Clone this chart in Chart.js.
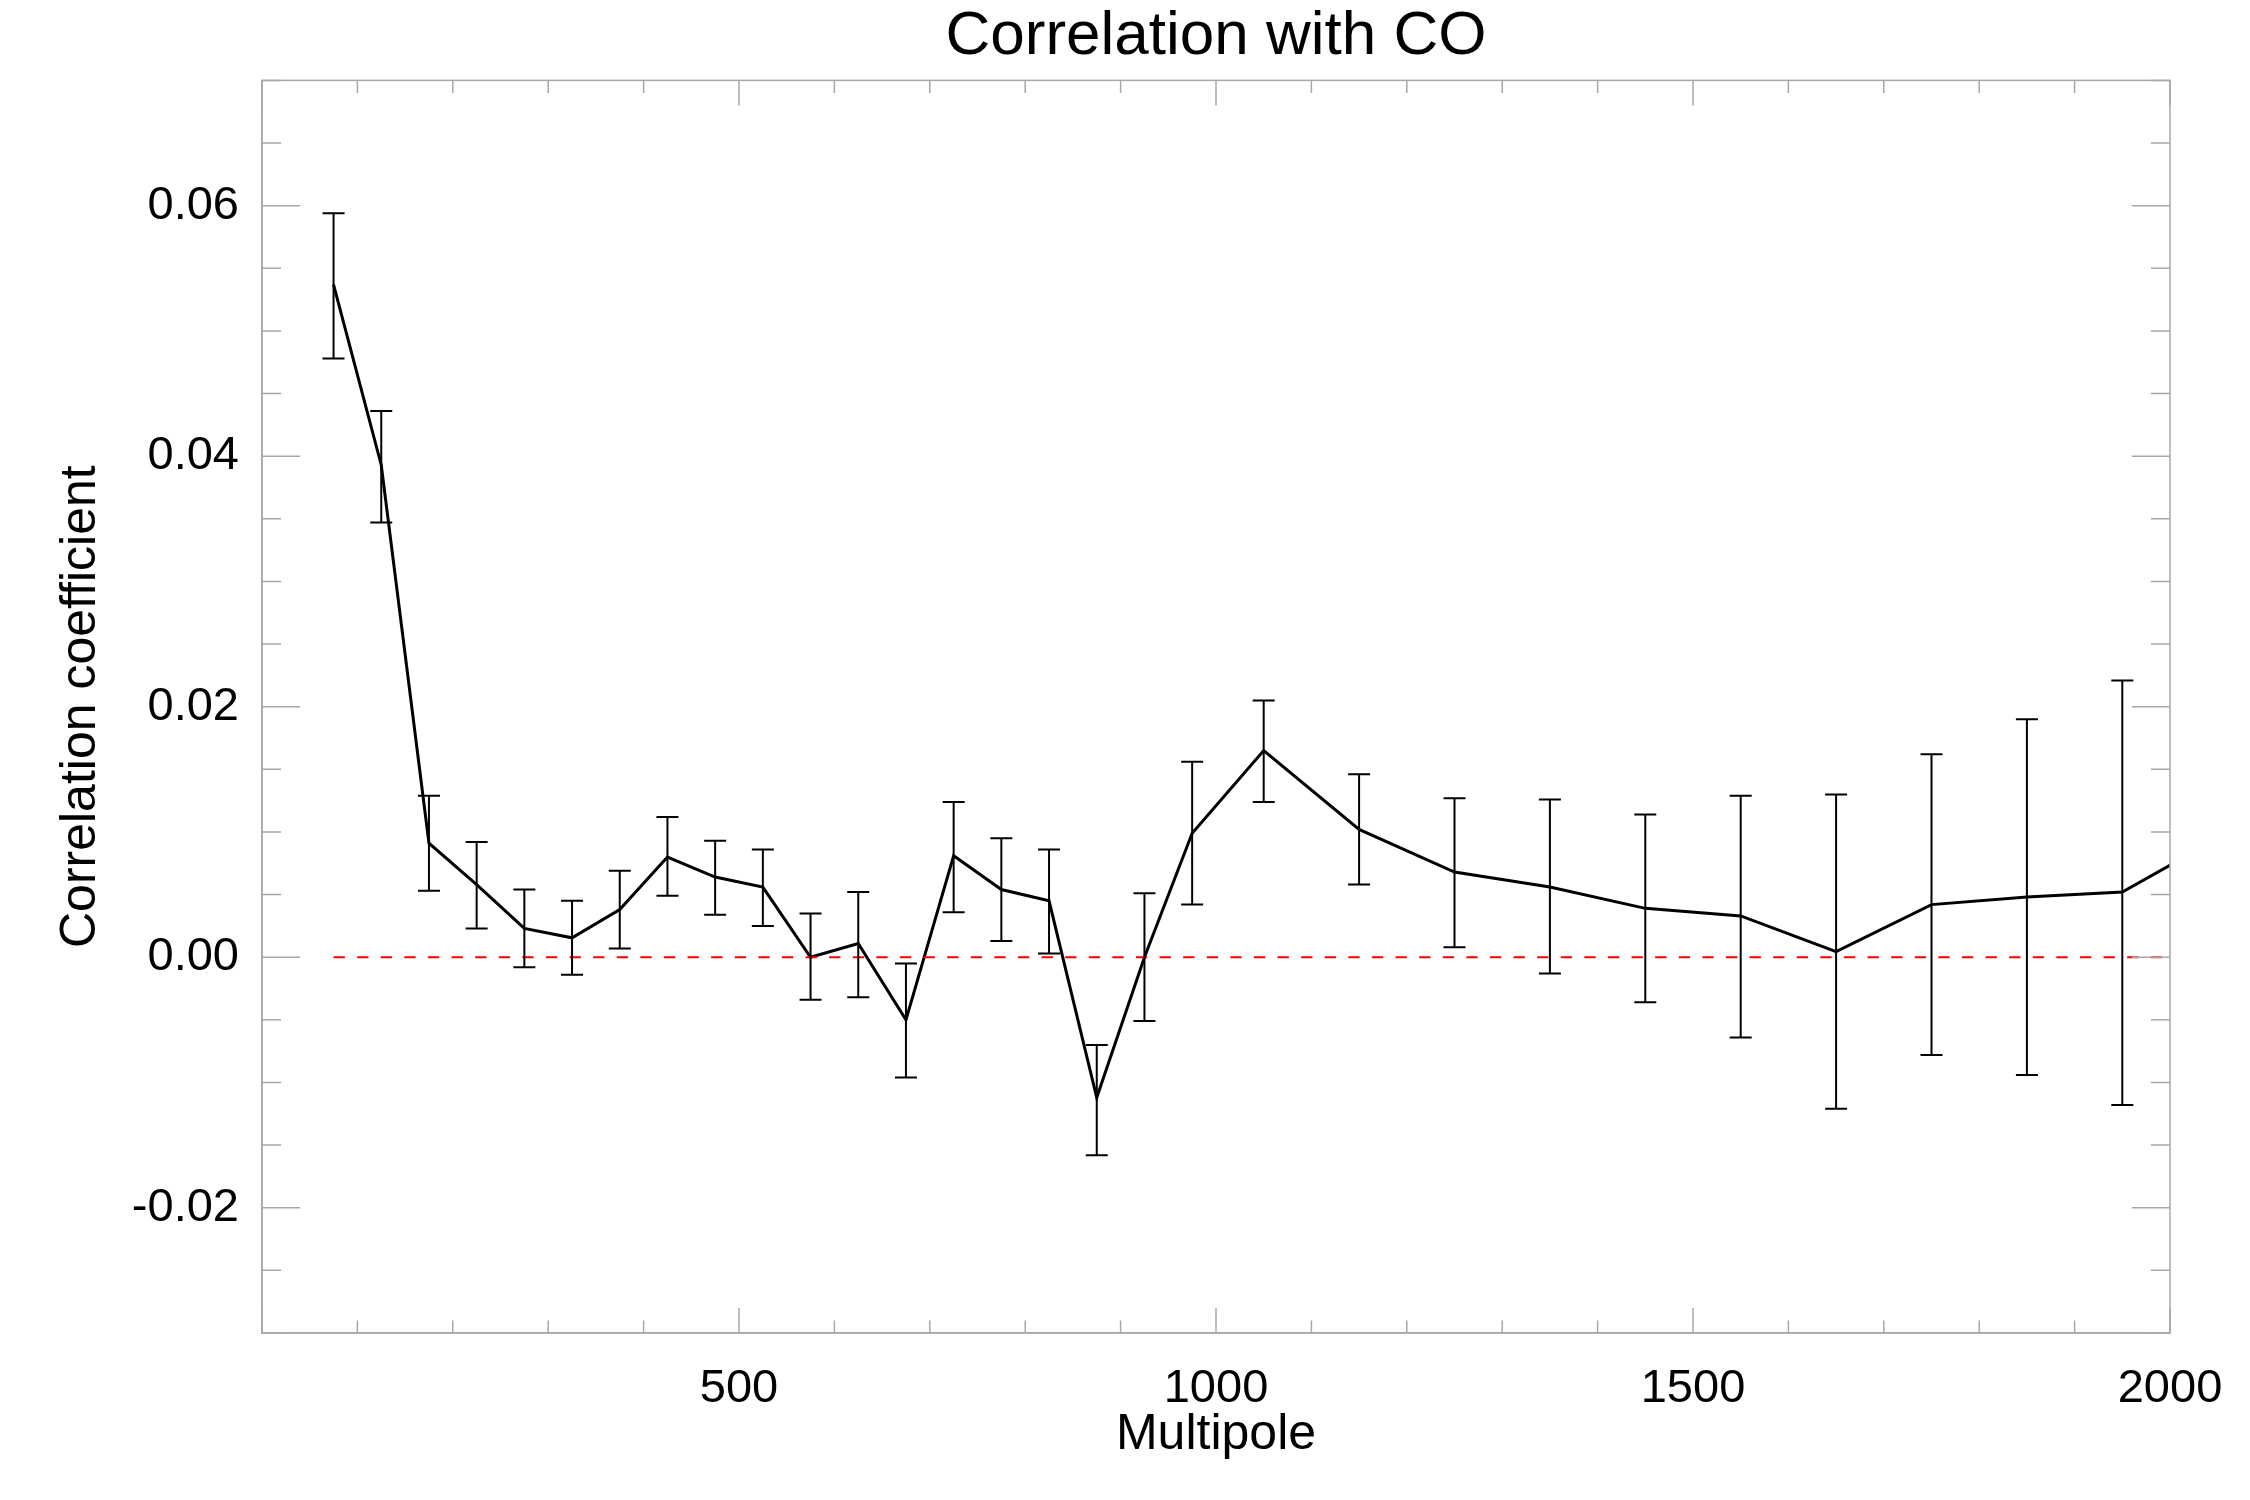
<!DOCTYPE html>
<html>
<head>
<meta charset="utf-8">
<title>Correlation with CO</title>
<script src="https://cdn.jsdelivr.net/npm/chart.js@4.4.1/dist/chart.umd.min.js"></script>
<style>
  html, body { margin: 0; padding: 0; background: #fff; }
  #wrap { width: 2250px; height: 1500px; }
</style>
</head>
<body>
<div id="wrap"><canvas id="chart"></canvas></div>
<script>
// Bin centres (multipole) and correlation with CO.
// The last bin sits past the right edge; only its connecting line shows.
const multipoles = [75, 125, 175, 225, 275, 325, 375, 425, 475, 525, 575, 625, 675, 725, 775,
  825, 875, 925, 975, 1050, 1150, 1250, 1350, 1450, 1550, 1650, 1750, 1850, 1950, 2050];
const correlation = [0.0537, 0.0393, 0.0091, 0.0058, 0.0023, 0.00155, 0.0038, 0.0080, 0.0064,
  0.0056, 0.0000, 0.0011, -0.0050, 0.0081, 0.0054, 0.0045, -0.0112, 0.0000, 0.0099, 0.0165,
  0.0102, 0.0068, 0.0056, 0.0039, 0.0033, 0.00045, 0.0042, 0.0048, 0.0052, 0.0095];
// Error bar ends (lower / upper)
const errLower = [0.0478, 0.0347, 0.0053, 0.0023, -0.0008, -0.0014, 0.0007, 0.0049, 0.0034,
  0.0025, -0.0034, -0.0032, -0.0096, 0.0036, 0.0013, 0.0003, -0.0158, -0.0051, 0.0042, 0.0124,
  0.0058, 0.0008, -0.0013, -0.0036, -0.0064, -0.0121, -0.0078, -0.0094, -0.0118, null];
const errUpper = [0.0594, 0.0436, 0.0129, 0.0092, 0.0054, 0.0045, 0.0069, 0.0112, 0.0093,
  0.0086, 0.0035, 0.0052, -0.0005, 0.0124, 0.0095, 0.0086, -0.0070, 0.0051, 0.0156, 0.0205,
  0.0146, 0.0127, 0.0126, 0.0114, 0.0129, 0.0130, 0.0162, 0.0190, 0.0221, null];

// Reference line at zero
const zeroLineX = [75, 2000];
const zeroLineY = [0, 0];

// Axis ranges and labelled ticks
const xRange = [0, 2000];
const xLabelled = [500, 1000, 1500, 2000];
const yRange = [-0.03, 0.07];
const yLabelled = [-0.02, 0.00, 0.02, 0.04, 0.06];

const AXIS_GREY = '#a8a8a8';
const FONT = "'Liberation Sans', Arial, Helvetica, sans-serif";

Chart.defaults.font.family = FONT;
Chart.defaults.color = '#000';

const isXMajor = v => xLabelled.includes(Math.round(v)) || Math.round(v) === 0;
const isYMajor = v => yLabelled.some(l => Math.abs(l - v) < 1e-6);

/**
 * Vertical error bars with caps, placed through the chart scales
 */
const errorBars = {
  id: 'errorBars',
  afterDatasetsDraw(chart) {
    const { ctx, chartArea, scales: { x, y } } = chart;
    ctx.save();
    ctx.beginPath();
    ctx.rect(chartArea.left, chartArea.top, chartArea.right - chartArea.left, chartArea.bottom - chartArea.top);
    ctx.clip();
    ctx.strokeStyle = '#000';
    ctx.lineWidth = 2;
    const cap = 11;
    multipoles.forEach((m, i) => {
      if (errLower[i] == null) return;
      const px = x.getPixelForValue(m);
      const lo = y.getPixelForValue(errLower[i]);
      const hi = y.getPixelForValue(errUpper[i]);
      ctx.beginPath();
      ctx.moveTo(px, lo);
      ctx.lineTo(px, hi);
      ctx.moveTo(px - cap, lo);
      ctx.lineTo(px + cap, lo);
      ctx.moveTo(px - cap, hi);
      ctx.lineTo(px + cap, hi);
      ctx.stroke();
    });
    ctx.restore();
  }
};

/**
 * Box frame with inward ticks on all four sides (IDL style)
 */
const boxAxes = {
  id: 'boxAxes',
  afterDraw(chart) {
    const { ctx, chartArea: a, scales: { x, y } } = chart;
    const w = a.right - a.left;
    const h = a.bottom - a.top;
    ctx.save();
    ctx.strokeStyle = AXIS_GREY;
    ctx.lineWidth = 1.5;
    ctx.strokeRect(a.left, a.top, w, h);

    ctx.beginPath();
    x.ticks.forEach(t => {
      const px = x.getPixelForValue(t.value);
      const len = (isXMajor(t.value) ? 0.02 : 0.01) * h;
      ctx.moveTo(px, a.bottom);
      ctx.lineTo(px, a.bottom - len);
      ctx.moveTo(px, a.top);
      ctx.lineTo(px, a.top + len);
    });
    y.ticks.forEach(t => {
      const py = y.getPixelForValue(t.value);
      const len = (isYMajor(t.value) ? 0.02 : 0.01) * w;
      ctx.moveTo(a.left, py);
      ctx.lineTo(a.left + len, py);
      ctx.moveTo(a.right, py);
      ctx.lineTo(a.right - len, py);
    });
    ctx.stroke();
    ctx.restore();
  }
};

const ctx = document.getElementById('chart').getContext('2d');

new Chart(ctx, {
  type: 'line',
  data: {
    datasets: [{
      label: 'Zero',
      data: zeroLineX.map((v, i) => ({ x: v, y: zeroLineY[i] })),
      borderColor: '#ff0000',
      borderWidth: 2,
      borderDash: [11.3, 12.3],
      pointRadius: 0,
      fill: false,
      clip: 0
    }, {
      label: 'Correlation with CO',
      data: multipoles.map((m, i) => ({ x: m, y: correlation[i] })),
      borderColor: '#000',
      borderWidth: 3,
      pointRadius: 0,
      tension: 0,
      fill: false,
      clip: 0
    }]
  },
  options: {
    responsive: true,
    maintainAspectRatio: false,
    animation: false,
    devicePixelRatio: 1,
    layout: {
      padding: { left: 0, right: 80, top: 0, bottom: 0 }
    },
    plugins: {
      legend: { display: false },
      tooltip: { enabled: false },
      title: {
        display: true,
        fullSize: false,
        text: 'Correlation with CO',
        color: '#000',
        font: { size: 62, weight: 'normal' },
        padding: { top: 0, bottom: 6 }
      }
    },
    scales: {
      x: {
        type: 'linear',
        position: 'bottom',
        min: xRange[0],
        max: xRange[1],
        grid: { display: false },
        border: { display: true, color: AXIS_GREY, width: 1.5 },
        ticks: {
          stepSize: 100,
          autoSkip: false,
          maxRotation: 0,
          padding: 20,
          color: '#000',
          font: { size: 47 },
          callback: (v) => xLabelled.includes(Math.round(v)) ? String(Math.round(v)) : ''
        },
        title: {
          display: true,
          text: 'Multipole',
          color: '#000',
          font: { size: 50 },
          padding: { top: 0, bottom: 35 }
        },
        afterFit: (scale) => { scale.height = 167; }
      },
      y: {
        type: 'linear',
        min: yRange[0],
        max: yRange[1],
        grid: { display: false },
        border: { display: true, color: AXIS_GREY, width: 1.5 },
        ticks: {
          stepSize: 0.005,
          autoSkip: false,
          padding: 15,
          color: '#000',
          font: { size: 47 },
          callback: (v) => isYMajor(v) ? (Math.round(v * 100) / 100).toFixed(2) : ''
        },
        title: {
          display: true,
          text: 'Correlation coefficient',
          color: '#000',
          font: { size: 50 },
          padding: { top: 51, bottom: 0 }
        },
        afterFit: (scale) => { scale.width = 262; }
      }
    }
  },
  plugins: [errorBars, boxAxes]
});
</script>
</body>
</html>
